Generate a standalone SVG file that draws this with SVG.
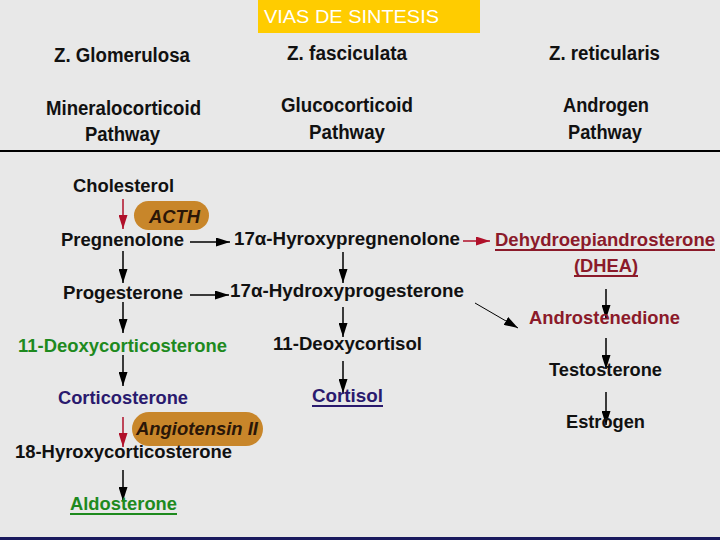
<svg xmlns="http://www.w3.org/2000/svg" width="720" height="540" viewBox="0 0 720 540">
<defs>
<style>
text{font-family:"Liberation Sans",Arial,sans-serif;font-weight:bold;font-size:19px;fill:#111}
.hd{font-size:20px}
.g{fill:#1e8a1e}
.n{fill:#2a1a6e}
.r{fill:#8b1a2a}
.pill{fill:#c8862a}
.pt{font-style:italic;fill:#2a1608;font-size:19px}
.c{stroke:#000;stroke-width:1.5;fill:none}
.cr{stroke:#b0102a;stroke-width:1.5;fill:none}
.thin{stroke:#000;stroke-width:1;fill:none}
</style>
<marker id="ah" viewBox="0 0 14 9" refX="14" refY="4.5" markerWidth="14" markerHeight="9" markerUnits="userSpaceOnUse" orient="auto"><path d="M0,0L14,4.5L0,9z" fill="#000"/></marker>
<marker id="ahr" viewBox="0 0 14 9" refX="14" refY="4.5" markerWidth="14" markerHeight="9" markerUnits="userSpaceOnUse" orient="auto"><path d="M0,0L14,4.5L0,9z" fill="#b0102a"/></marker>
</defs>
<rect width="720" height="540" fill="#e8e8e8"/>
<g id="title">
<rect x="258" y="0" width="222" height="33" fill="#ffcc00"/>
<text x="264" y="23" style="font-weight:normal;font-size:18px;fill:#fff" textLength="175" lengthAdjust="spacingAndGlyphs">VIAS DE SINTESIS</text>
</g>
<g id="headers">
<text class="hd" x="54" y="62" textLength="136" lengthAdjust="spacingAndGlyphs">Z. Glomerulosa</text>
<text class="hd" x="287" y="60" textLength="120" lengthAdjust="spacingAndGlyphs">Z. fasciculata</text>
<text class="hd" x="549" y="60" textLength="111" lengthAdjust="spacingAndGlyphs">Z. reticularis</text>
<text class="hd" x="46" y="115" textLength="155" lengthAdjust="spacingAndGlyphs">Mineralocorticoid</text>
<text class="hd" x="85" y="141" textLength="75" lengthAdjust="spacingAndGlyphs">Pathway</text>
<text class="hd" x="281" y="112" textLength="132" lengthAdjust="spacingAndGlyphs">Glucocorticoid</text>
<text class="hd" x="309" y="139" textLength="76" lengthAdjust="spacingAndGlyphs">Pathway</text>
<text class="hd" x="563" y="112" textLength="86" lengthAdjust="spacingAndGlyphs">Androgen</text>
<text class="hd" x="568" y="139" textLength="74" lengthAdjust="spacingAndGlyphs">Pathway</text>
<line x1="0" y1="151" x2="720" y2="151" stroke="#000" stroke-width="2"/>
</g>
<g id="connectors">
<line class="cr" x1="123" y1="199" x2="123" y2="229" marker-end="url(#ahr)"/>
<line class="c" x1="123" y1="251" x2="123" y2="283" marker-end="url(#ah)"/>
<line class="c" x1="123" y1="302" x2="123" y2="333" marker-end="url(#ah)"/>
<line class="c" x1="123" y1="355" x2="123" y2="386" marker-end="url(#ah)"/>
<line class="cr" x1="123" y1="417" x2="123" y2="447" marker-end="url(#ahr)"/>
<line class="c" x1="123" y1="470" x2="123" y2="501" marker-end="url(#ah)"/>
<line class="c" x1="190" y1="242" x2="230" y2="242" marker-end="url(#ah)"/>
<line class="c" x1="190" y1="295" x2="229" y2="295" marker-end="url(#ah)"/>
<line class="c" x1="343" y1="252" x2="343" y2="283" marker-end="url(#ah)"/>
<line class="c" x1="343" y1="307" x2="343" y2="337" marker-end="url(#ah)"/>
<line class="c" x1="343" y1="361" x2="343" y2="393" marker-end="url(#ah)"/>
<line class="cr" x1="463" y1="241" x2="490" y2="241" marker-end="url(#ahr)"/>
<line class="thin" x1="475" y1="303" x2="518" y2="328" marker-end="url(#ah)"/>
<line class="c" x1="606" y1="289" x2="606" y2="319" marker-end="url(#ah)"/>
<line class="c" x1="606" y1="338" x2="606" y2="369" marker-end="url(#ah)"/>
<line class="c" x1="606" y1="392" x2="606" y2="425" marker-end="url(#ah)"/>
</g>
<g id="acth">
<rect class="pill" x="134" y="201" width="75" height="29" rx="14.5"/>
<text class="pt" x="149" y="223" textLength="51" lengthAdjust="spacingAndGlyphs">ACTH</text>
</g>
<g id="angiotensin">
<rect class="pill" x="132" y="412" width="131" height="34" rx="17"/>
<text class="pt" x="136" y="435" textLength="122" lengthAdjust="spacingAndGlyphs">Angiotensin II</text>
</g>
<g id="cholesterol"><text x="73" y="192" textLength="101" lengthAdjust="spacingAndGlyphs">Cholesterol</text></g>
<g id="pregnenolone"><text x="61" y="246" textLength="123" lengthAdjust="spacingAndGlyphs">Pregnenolone</text></g>
<g id="progesterone"><text x="63" y="299" textLength="120" lengthAdjust="spacingAndGlyphs">Progesterone</text></g>
<g id="deoxycorticosterone"><text class="g" x="18" y="352" textLength="209" lengthAdjust="spacingAndGlyphs">11-Deoxycorticosterone</text></g>
<g id="corticosterone"><text class="n" x="58" y="404" textLength="130" lengthAdjust="spacingAndGlyphs">Corticosterone</text></g>
<g id="hydroxycorticosterone"><text x="15" y="458" textLength="217" lengthAdjust="spacingAndGlyphs">18-Hyroxycorticosterone</text></g>
<g id="aldosterone"><text class="g" x="70" y="510" textLength="107" lengthAdjust="spacingAndGlyphs">Aldosterone</text><rect x="70" y="513" width="107" height="2" fill="#1e8a1e"/></g>
<g id="hydroxypregnenolone"><text x="234" y="245" textLength="226" lengthAdjust="spacingAndGlyphs">17α-Hyroxypregnenolone</text></g>
<g id="hydroxyprogesterone"><text x="230" y="297" textLength="234" lengthAdjust="spacingAndGlyphs">17α-Hydroxyprogesterone</text></g>
<g id="deoxycortisol"><text x="273" y="350" textLength="149" lengthAdjust="spacingAndGlyphs">11-Deoxycortisol</text></g>
<g id="cortisol"><text class="n" x="312" y="402" textLength="71" lengthAdjust="spacingAndGlyphs">Cortisol</text><rect x="312" y="405" width="71" height="2" fill="#2a1a6e"/></g>
<g id="dhea"><text class="r" x="495" y="246" textLength="220" lengthAdjust="spacingAndGlyphs">Dehydroepiandrosterone</text><rect x="495" y="249" width="220" height="2" fill="#8b1a2a"/>
<text class="r" x="574" y="272" textLength="64" lengthAdjust="spacingAndGlyphs">(DHEA)</text><rect x="574" y="275" width="64" height="2" fill="#8b1a2a"/></g>
<g id="androstenedione"><text class="r" x="529" y="324" textLength="151" lengthAdjust="spacingAndGlyphs">Androstenedione</text></g>
<g id="testosterone"><text x="549" y="376" textLength="113" lengthAdjust="spacingAndGlyphs">Testosterone</text></g>
<g id="estrogen"><text x="566" y="428" textLength="79" lengthAdjust="spacingAndGlyphs">Estrogen</text></g>
<rect x="0" y="537" width="720" height="3" fill="#1a1a5e"/>
</svg>
